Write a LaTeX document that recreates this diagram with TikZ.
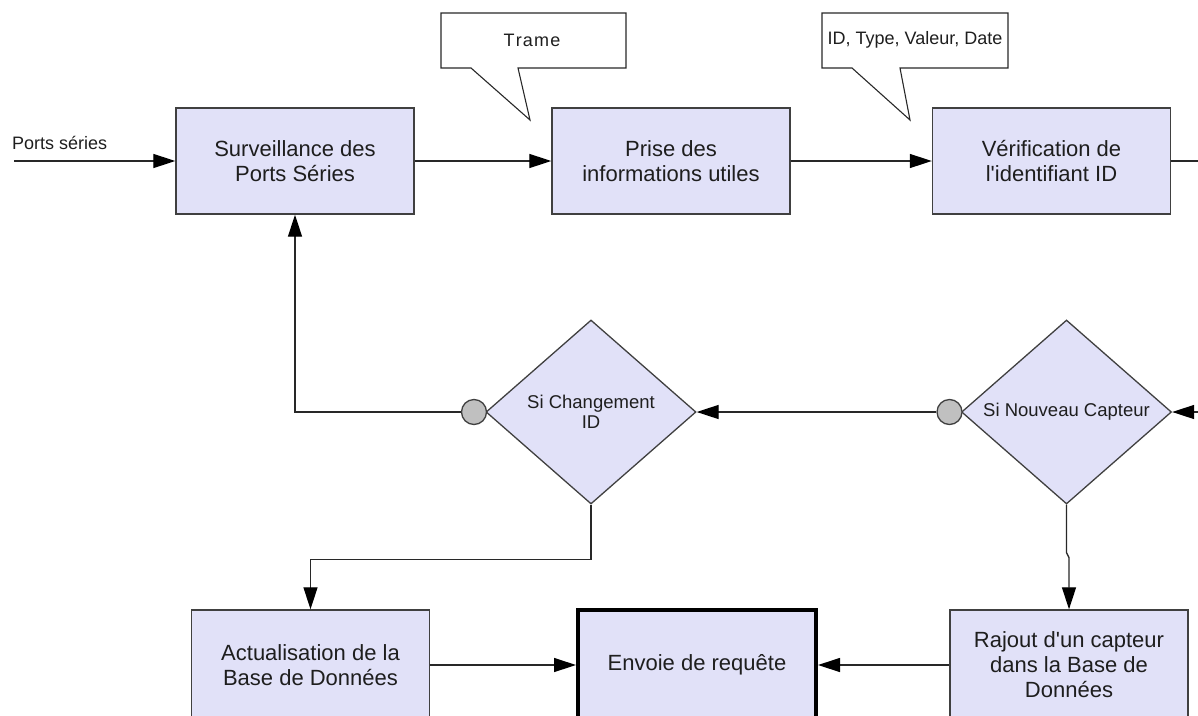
\documentclass[tikz,border=0pt]{standalone}
\usepackage{fontspec}
\setmainfont{Liberation Sans}
\usetikzlibrary{arrows.meta,shapes.geometric}
\definecolor{boxfill}{RGB}{225,225,248}
\definecolor{boxline}{RGB}{64,64,64}
\definecolor{linecol}{RGB}{40,40,40}
\definecolor{dotfill}{RGB}{192,192,192}
\definecolor{txt}{RGB}{30,30,30}
\begin{document}
\begin{tikzpicture}[x=1pt,y=-1pt,
  procbox/.style={draw=boxline,fill=boxfill,line width=1.4pt,minimum width=238pt,minimum height=106pt,
    align=center,inner sep=0pt,text=txt,font=\fontsize{22}{25}\selectfont},
  lowbox/.style={procbox,minimum height=110pt},
  decision/.style={diamond,draw=boxline,fill=boxfill,line width=1.3pt,minimum width=210pt,minimum height=184pt,
    aspect=1.14,align=center,inner sep=0pt,text=txt,font=\fontsize{18.5}{20}\selectfont},
  dot/.style={circle,draw=boxline,fill=dotfill,line width=1.3pt,minimum size=25pt,inner sep=0pt},
  arr/.style={draw=linecol,line width=1.3pt,-{Triangle[length=22pt,width=14pt,color=black]}},
  plain/.style={draw=linecol,line width=1.3pt},
  callout/.style={draw=linecol,fill=white,line width=1.1pt},
  small/.style={font=\fontsize{18}{20}\selectfont,inner sep=0pt,text=txt}
]
\useasboundingbox (0,0) rectangle (1198,715);

% top row
\node[procbox] (surv) at (295,161) {Surveillance des\\Ports Séries};
\node[procbox] (prise) at (671,161) {Prise des\\informations utiles};
\node[procbox] (verif) at (1051.5,161) {Vérification de\\l\textquotesingle identifiant ID};

% callouts
\draw[callout] (441,13) -- (626,13) -- (626,68) -- (518,68) -- (530,120) -- (471,68) -- (441,68) -- cycle;
\node[small] (trame) at (532,40) {T\kern1.2pt r\kern1.2pt a\kern1.2pt m\kern1.2pt e};
\draw[callout] (822,13) -- (1008,13) -- (1008,68) -- (900,68) -- (910,120) -- (852,68) -- (822,68) -- cycle;
\node[small] (idlab) at (915,40) {ID, Type, Valeur, Date};

% decisions
\node[decision] (d1) at (591,412) {Si Changement\\ID};
\node[decision] (d2) at (1066.5,412) {Si Nouveau Capteur};
\node[dot] (c1) at (474,412) {};
\node[dot] (c2) at (949.5,412) {};

% bottom row
\node[lowbox] (actu) at (310.5,665) {Actualisation de la\\Base de Données};
\node[lowbox,draw=black,line width=4pt] (envoie) at (697,665) {Envoie de requête};
\node[lowbox] (rajout) at (1069,665) {Rajout d\textquotesingle un capteur\\dans la Base de\\Données};

% input
\coordinate (pin) at (14,161);
\node[small,anchor=west] (plab) at (12,143) {Ports séries};
\draw[arr] (pin) -- (surv.west);
\draw[arr] (surv.east) -- (prise.west);
\draw[arr] (prise.east) -- (verif.west);
\coordinate (vout) at (1198,161);
\draw[plain] (verif.east) -- (vout);
\coordinate (din) at (1198,412);
\draw[arr] (din) -- (d2.east);
\draw[arr] (c2.west) -- (d1.east);
\draw[arr] (c1.west) -- (c1.west -| surv.south) -- (surv.south);
\draw[arr] (d1.south) -- ++(0,55) -| (actu.north);
\draw[arr] (d2.south) -- ++(0,48) -- ++(2.5,5) -- (rajout.north);
\draw[arr] (actu.east |- envoie.west) -- (envoie.west);
\draw[arr] (rajout.west |- envoie.east) -- (envoie.east);
\end{tikzpicture}
\end{document}
